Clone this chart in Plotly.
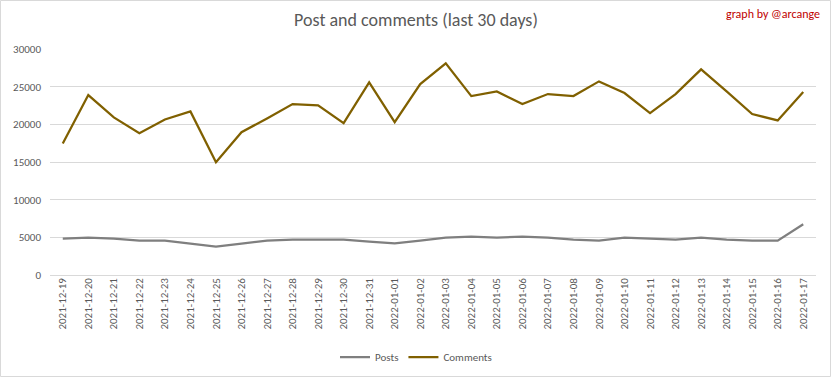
import plotly.graph_objects as go

dates = ["2021-12-19", "2021-12-20", "2021-12-21", "2021-12-22", "2021-12-23", "2021-12-24",
         "2021-12-25", "2021-12-26", "2021-12-27", "2021-12-28", "2021-12-29", "2021-12-30",
         "2021-12-31", "2022-01-01", "2022-01-02", "2022-01-03", "2022-01-04", "2022-01-05",
         "2022-01-06", "2022-01-07", "2022-01-08", "2022-01-09", "2022-01-10", "2022-01-11",
         "2022-01-12", "2022-01-13", "2022-01-14", "2022-01-15", "2022-01-16", "2022-01-17"]

posts = [4830, 4960, 4830, 4560, 4560, 4160, 3760, 4160, 4560, 4700, 4700, 4700,
         4430, 4210, 4560, 4960, 5090, 4960, 5090, 4960, 4700, 4560, 4960, 4830,
         4700, 4960, 4700, 4560, 4560, 6730]

comments = [17450, 23880, 20920, 18830, 20650, 21710, 14970, 18960, 20780, 22690, 22530, 20160,
            25570, 20290, 25350, 28100, 23750, 24370, 22690, 24020, 23750, 25700, 24150, 21490,
            24020, 27300, 24370, 21360, 20520, 24280]

FONT = "Carlito, DejaVu Sans Condensed, Lato, sans-serif"
GREY = "#595959"

fig = go.Figure()
fig.add_trace(go.Scatter(x=dates, y=posts, name="Posts", mode="lines",
                         line=dict(color="#7f7f7f", width=2.25)))
fig.add_trace(go.Scatter(x=dates, y=comments, name="Comments", mode="lines",
                         line=dict(color="#806000", width=2.25)))

W, H = 832, 378
L, R, T, B = 50, 16, 49, 103
pw, ph = W - L - R, H - T - B

fig.update_layout(
    width=W, height=H,
    margin=dict(l=L, r=R, t=T, b=B, autoexpand=False),
    paper_bgcolor="white", plot_bgcolor="white",
    font=dict(family=FONT, color=GREY, size=11),
    title=dict(text="Post and comments (last 30 days)", x=0.5, xanchor="center",
               y=1 - 20 / H, yanchor="middle",
               font=dict(size=18, color=GREY, family=FONT)),
    xaxis=dict(type="category", tickangle=-90, showgrid=False, showline=False,
               ticks="", tickfont=dict(size=11, color=GREY), range=[-0.5, 29.5],
               automargin=False),
    yaxis=dict(range=[0, 30000], dtick=5000, tickformat="d", gridcolor="#d9d9d9",
               gridwidth=1, zeroline=True, zerolinecolor="#d9d9d9", zerolinewidth=1,
               showline=False, ticks="", tickfont=dict(size=11, color=GREY),
               ticklabelstandoff=8, automargin=False),
    legend=dict(orientation="h", x=(416 - L) / pw, xanchor="center", y=-(357 - T - ph) / ph,
                yanchor="middle", font=dict(size=11, color=GREY), traceorder="normal",
                itemwidth=30),
    showlegend=True,
)

fig.add_annotation(text="graph by @arcange", xref="paper", yref="paper",
                   x=(822 - L) / pw, y=1 + (T - 14) / ph, xanchor="right", yanchor="middle",
                   showarrow=False, font=dict(size=12, color="#c00000", family=FONT))

fig.add_shape(type="rect", xref="paper", yref="paper",
              x0=(0.5 - L) / pw, x1=(W - 1.5 - L) / pw,
              y0=-(H - 1.5 - T - ph) / ph, y1=1 + (T - 0.5) / ph,
              line=dict(color="#d9d9d9", width=1), fillcolor="rgba(0,0,0,0)", layer="below")

fig.write_html("out.html", config={"displayModeBar": False},
               post_script="document.body.style.margin='0';document.body.style.overflow='hidden';")
